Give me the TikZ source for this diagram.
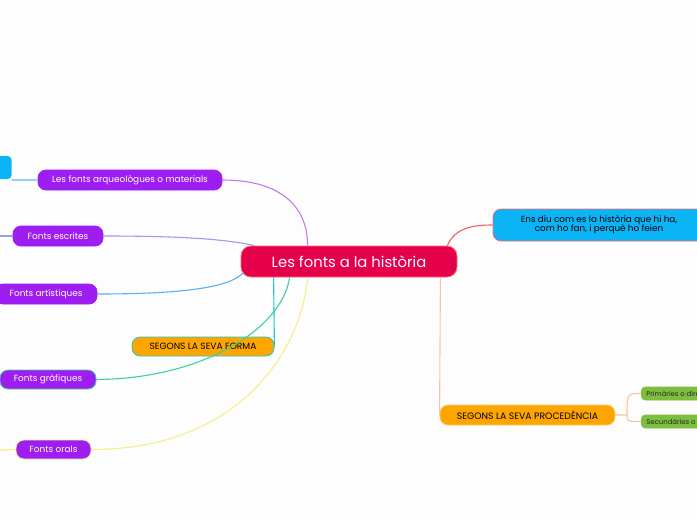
\documentclass[tikz,border=0pt]{standalone}
\usepackage{fontspec}
\setmainfont{Poppins}
\usetikzlibrary{calc}
\definecolor{bg}{HTML}{FDFDFD}
\definecolor{cred}{HTML}{E4004B}
\definecolor{credb}{HTML}{FF6B6B}
\definecolor{cblue}{HTML}{0AB4F5}
\definecolor{cpurp}{HTML}{9E1EF2}
\definecolor{corange}{HTML}{FFA500}
\definecolor{cgreen}{HTML}{7CBF3E}
\definecolor{lred}{HTML}{F06262}
\definecolor{lorange}{HTML}{FFC29A}
\definecolor{lpurp}{HTML}{C07EE8}
\definecolor{lescr}{HTML}{9C9CF2}
\definecolor{lart}{HTML}{5EAEF2}
\definecolor{lgraf}{HTML}{3CD0A0}
\definecolor{lforma}{HTML}{20C8C8}
\definecolor{loral}{HTML}{F6EE8A}
\definecolor{llblue}{HTML}{9CCCF2}
\tikzset{
  box/.style={rounded corners=#1, inner sep=0pt, line width=0.8pt},
  box/.default=8pt,
  purp/.style={box, fill=cpurp, text=white, font=\fontsize{8.9}{10}\selectfont},
  greenbox/.style={box=4pt, fill=cgreen, draw=cgreen, minimum width=80pt, minimum height=13pt, anchor=west, font=\fontsize{6.9}{7}\selectfont, text=black!85},
  conn/.style={line width=1.1pt},
}
\begin{document}
\begin{tikzpicture}[x=1pt,y=-1pt]
\useasboundingbox[fill=bg] (0,0) rectangle (697,520);
\coordinate (escL0) at (0,236);
\coordinate (oralL0) at (0,450);
% nodes
\node[box=10pt, fill=cred, draw=credb, text=white, minimum width=216pt, minimum height=31pt, font=\fontsize{14.8}{16}\selectfont] (c) at (349,261.5) {Les fonts a la història};
\node[box, fill=cblue, draw=credb, minimum width=212pt, minimum height=32pt, font=\fontsize{8.8}{10.5}\selectfont, align=center] (ens) at (599,225) {Ens diu com es la història que hi ha,\\[-1.5pt] com ho fan, i perquè ho feien};
\node[box, fill=corange, draw=corange!60!white, minimum width=175pt, minimum height=20pt, font=\fontsize{9.3}{9}\selectfont] (proc) at (527.5,415) {SEGONS LA SEVA PROCEDÈNCIA};
\node[greenbox] (prim) at (641,393.5) {\makebox[80pt][l]{\hspace*{5pt}Primàries o directes}};
\node[greenbox] (sec) at (641,421.5) {\makebox[80pt][l]{\hspace*{5pt}Secundàries o indirectes}};
\node[box, fill=corange, draw=lforma, minimum width=142pt, minimum height=19pt, font=\fontsize{9.1}{9}\selectfont] (forma) at (203,346.5) {SEGONS LA SEVA FORMA};
\node[purp, draw=cpurp, minimum width=184pt, minimum height=20pt] (arq) at (130,180) {Les fonts arqueològues o materials};
\node[purp, draw=cpurp, minimum width=90pt, minimum height=20pt] (esc) at (58,236) {Fonts escrites};
\node[purp, draw=cpurp, minimum width=102pt, minimum height=20pt] (art) at (46,294) {Fonts artístiques};
\node[purp, draw=lgraf, minimum width=96pt, minimum height=19pt] (graf) at (48,379.5) {Fonts gràfiques};
\node[purp, draw=loral, minimum width=75pt, minimum height=19pt] (oral) at (53.5,449.5) {Fonts orals};
\node[box=4pt, fill=cblue, minimum width=40pt, minimum height=23pt, anchor=east] (tl) at (12,167.5) {};
% connectors
\draw[conn, lpurp] (arq.east) .. controls (290,180) and (308,215) .. ($(c.north west)+(67,0)$);
\draw[conn, lescr] (esc.east) .. controls (180,236) and (225,239) .. ($(c.north west)+(14,0)$);
\draw[conn, lart] (art.east) .. controls (180,294) and (230,288) .. ($(c.south west)+(3,-5)$);
\draw[conn, lgraf] (graf.east) .. controls (200,379) and (282,330) .. ($(c.south west)+(49,0)$);
\draw[conn, lforma] ($(c.south west)+(33,0)$) -- (forma.east);
\draw[conn, loral] (oral.east) .. controls (230,450) and (300,360) .. ($(c.south west)+(67,0)$);
\draw[conn, lred] ($(c.north east)+(-10,0)$) .. controls (455,228) and (472,225) .. (ens.west);
\draw[conn, lorange] ($(c.south east)+(-17,0)$) -- (proc.west);
\coordinate (split) at (627,415);
\draw[conn, lorange] (proc.east) -- (split) .. controls (627,393.5) .. (prim.west);
\draw[conn, lorange] (split) .. controls (627,421.5) .. (sec.west);
\draw[conn, llblue] (arq.west) -- (tl.south east |- arq.west);
\draw[conn, lescr] (esc.west) -- (escL0);
\draw[conn, loral] (oral.west) -- (oralL0);
\end{tikzpicture}
\end{document}
